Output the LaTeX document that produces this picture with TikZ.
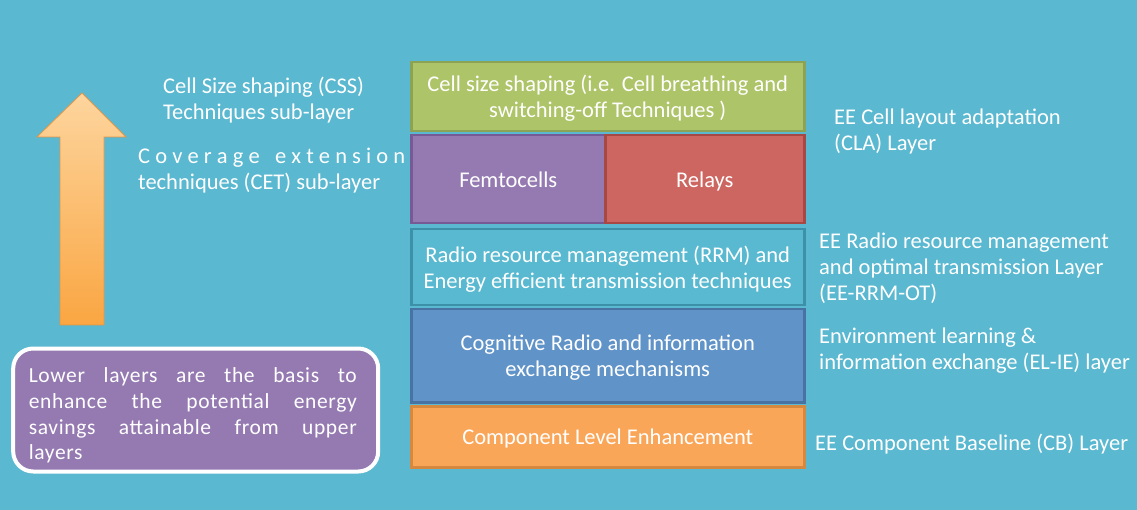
\documentclass[tikz,border=0pt]{standalone}
\usepackage{fontspec}
\setmainfont{Carlito}
\usepackage{tikz}
\definecolor{slideback}{RGB}{90,184,208}
\definecolor{cssgreen}{RGB}{174,196,104}
\definecolor{cssgreenline}{RGB}{140,162,84}
\definecolor{femtopurple}{RGB}{149,122,178}
\definecolor{femtopurpleline}{RGB}{118,90,150}
\definecolor{relayred}{RGB}{205,102,96}
\definecolor{relayredline}{RGB}{168,72,68}
\definecolor{rrmcyan}{RGB}{89,185,208}
\definecolor{rrmcyanline}{RGB}{60,145,168}
\definecolor{cogblue}{RGB}{96,147,199}
\definecolor{cogblueline}{RGB}{72,114,162}
\definecolor{cbornage}{RGB}{250,166,88}
\definecolor{cbornageline}{RGB}{214,136,62}
\definecolor{arrowtop}{RGB}{253,213,158}
\definecolor{arrowbottom}{RGB}{250,166,66}
\definecolor{arrowline}{RGB}{228,150,70}

\tikzset{
  layer/.style={draw,line width=2.5pt,text=white,align=center,inner sep=0pt,text depth=0pt,anchor=north west},
  sidelabel/.style={text=white,align=left,inner sep=0pt,anchor=base west},
}
% one stretched line of the note
\newcommand{\noteline}[1]{\makebox[328pt][s]{#1}}

\begin{document}
\begin{tikzpicture}[x=1pt,y=-1pt,font=\fontsize{22.5}{26}\selectfont]
\fill[slideback] (0,0) rectangle (1137,510);

% rising arrow
\shadedraw[top color=arrowtop,bottom color=arrowbottom,draw=arrowline,line width=0.8pt]
  (60,325) -- (60,137) -- (37,137) -- (82,93) -- (126,137) -- (104,137) -- (104,325) -- cycle;

% layer stack
\node[layer,fill=cssgreen,draw=cssgreenline,minimum width=393pt,minimum height=69pt] (css) at (410,61)
  {Cell size shaping (i.e. Cell breathing and\\switching-off Techniques )};
\node[layer,fill=femtopurple,draw=femtopurpleline,minimum width=194pt,minimum height=88pt] (femto) at (410,134)
  {Femtocells};
\node[layer,fill=relayred,draw=relayredline,minimum width=199pt,minimum height=88pt] (relays) at (604,134)
  {Relays};
\node[layer,fill=rrmcyan,draw=rrmcyanline,minimum width=393pt,minimum height=76pt] (rrm) at (410,228)
  {Radio resource management (RRM) and\\Energy efficient transmission techniques};
\node[layer,fill=cogblue,draw=cogblueline,minimum width=393pt,minimum height=93pt] (cog) at (410,308)
  {Cognitive Radio and information\\exchange mechanisms};
\node[layer,fill=cbornage,draw=cbornageline,minimum width=393pt,minimum height=61pt] (comp) at (410,405)
  {Component Level Enhancement};

% sub-layer names (anchored on the last line)
\node[sidelabel] (csslabel) at (163,119.5) {Cell Size shaping (CSS)\\Techniques sub-layer};
\node[sidelabel] (cetlabel) at (138,190)
  {\makebox[267pt][s]{C o v e r a g e\ \ \ e x t e n s i o n}\\techniques (CET) sub-layer};

% layer names
\node[sidelabel] (clalabel) at (834,151) {EE Cell layout adaptation\\(CLA) Layer};
\node[sidelabel] (rrmlabel) at (819,301) {EE Radio resource management\\and optimal transmission Layer\\(EE-RRM-OT)};
\node[sidelabel] (elielabel) at (819,369.3) {Environment learning \&\\information exchange (EL-IE) layer};
\node[sidelabel] (cblabel) at (815,450) {EE Component Baseline (CB) Layer};

% note
\node[fill=femtopurple,draw=white,line width=4pt,rounded corners=20pt,minimum width=365pt,minimum height=123pt,
  text=white,align=left,font=\fontsize{21.5}{25.6}\selectfont\addfontfeature{LetterSpace=3}] (note) at (195.7,410)
  {\noteline{\rule{0pt}{26pt}Lower layers are the basis to}\\
   \noteline{enhance the potential energy}\\
   \noteline{savings attainable from upper}\\
   layers\hspace*{280pt}};
\end{tikzpicture}
\end{document}
